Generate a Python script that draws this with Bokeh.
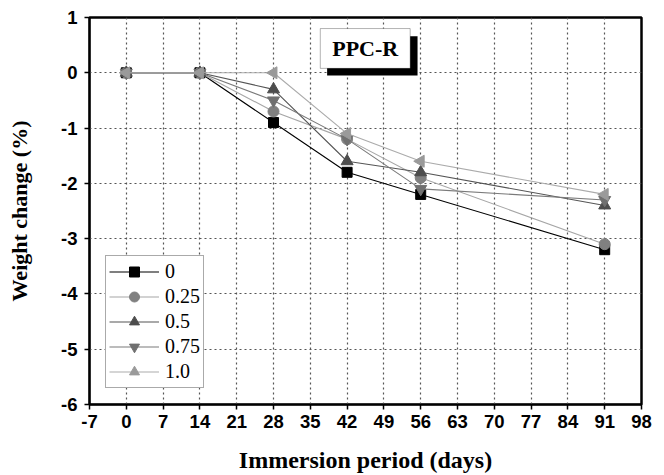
import numpy as np
from bokeh.plotting import figure
from bokeh.models import FixedTicker, BoxAnnotation, Label, CustomJSTickFormatter
from bokeh.embed import file_html
from bokeh.resources import INLINE

days = [0, 14, 28, 42, 56, 91]
series_names = ["0", "0.25", "0.5", "0.75", "1.0"]
w_0 = [0, 0, -0.9, -1.8, -2.2, -3.2]
w_025 = [0, 0, -0.7, -1.2, -1.9, -3.1]
w_05 = [0, 0, -0.3, -1.6, -1.8, -2.4]
w_075 = [0, 0, -0.5, -1.2, -2.1, -2.3]
w_10 = [0, 0, 0, -1.1, -1.6, -2.2]
x_ticks = list(range(-7, 99, 7))
y_ticks = [-6, -5, -4, -3, -2, -1, 0, 1]

p = figure(width=664, height=475, x_range=(-7, 98), y_range=(-6, 1),
           output_backend="svg", toolbar_location=None,
           min_border_left=89, min_border_right=23, min_border_top=17, min_border_bottom=71)
p.background_fill_color = "white"
p.outline_line_color = "black"
p.outline_line_width = 2.5

fmt = CustomJSTickFormatter(code="return tick.toString();")
for ax in (p.xaxis[0], p.yaxis[0]):
    ax.axis_line_color = "black"
    ax.axis_line_width = 1.5
    ax.major_tick_line_color = "black"
    ax.major_tick_line_width = 1.5
    ax.major_tick_in = 0
    ax.major_tick_out = 5
    ax.minor_tick_line_color = None
    ax.major_label_text_font = "Liberation Sans"
    ax.major_label_text_font_style = "bold"
    ax.major_label_text_font_size = "18.5px"
    ax.major_label_text_color = "black"
    ax.axis_label_text_font = "Liberation Serif"
    ax.axis_label_text_font_style = "bold"
    ax.axis_label_text_color = "black"
    ax.formatter = fmt

p.xaxis.ticker = FixedTicker(ticks=x_ticks)
p.yaxis.ticker = FixedTicker(ticks=y_ticks)
p.xaxis.axis_label = "Immersion period (days)"
p.yaxis.axis_label = "Weight change (%)"
p.xaxis.axis_label_text_font_size = "24px"
p.yaxis.axis_label_text_font_size = "22px"
p.xaxis.major_label_standoff = 5
p.yaxis.major_label_standoff = 7
p.xaxis.axis_label_standoff = 16
p.yaxis.axis_label_standoff = 26

for g in (p.xgrid[0], p.ygrid[0]):
    g.grid_line_color = "#555555"
    g.grid_line_dash = "2 3"
    g.grid_line_width = 1.2

styles = [
    (w_0, "black", "black", "square", 10, 0.0),
    (w_025, "#a6a6a6", "#808080", "circle", 11, 0.0),
    (w_05, "#555555", "#4d4d4d", "triangle", 12, 0.0),
    (w_075, "#7a7a7a", "#707070", "inverted_triangle", 12, 0.0),
    (w_10, "#ababab", "#9a9a9a", "triangle", 12, np.pi / 2),
]
for name, (vals, lc, mc, mk, sz, ang) in zip(series_names, styles):
    p.line(days, vals, line_color=lc, line_width=1.1, legend_label=name)
    p.scatter(days, vals, marker=mk, size=sz, angle=ang, fill_color=mc,
              line_color=mc, legend_label=name)

# title box with shadow
p.add_layout(BoxAnnotation(left=38.2, right=55.4, top=0.66, bottom=-0.05,
                           fill_color="black", fill_alpha=1, line_color=None))
p.add_layout(BoxAnnotation(left=36.9, right=54.0, top=0.80, bottom=0.08,
                           fill_color="white", fill_alpha=1, line_color="black", line_width=1))
p.add_layout(Label(x=45.45, y=0.44, text="PPC-R", text_align="center", text_baseline="middle",
                   text_font="Liberation Serif", text_font_style="bold",
                   text_font_size="22px", text_color="black"))

lg = p.legend[0]
lg.location = "bottom_left"
lg.margin = 16
lg.padding = 3
lg.spacing = 0
lg.glyph_width = 50
lg.glyph_height = 25
lg.label_height = 25
lg.label_standoff = 6
lg.label_text_font = "Liberation Serif"
lg.label_text_font_size = "20px"
lg.label_text_color = "black"
lg.border_line_color = "#555555"
lg.border_line_width = 1
lg.background_fill_color = "white"
lg.background_fill_alpha = 1

open("out.html", "w").write(file_html(p, INLINE))
